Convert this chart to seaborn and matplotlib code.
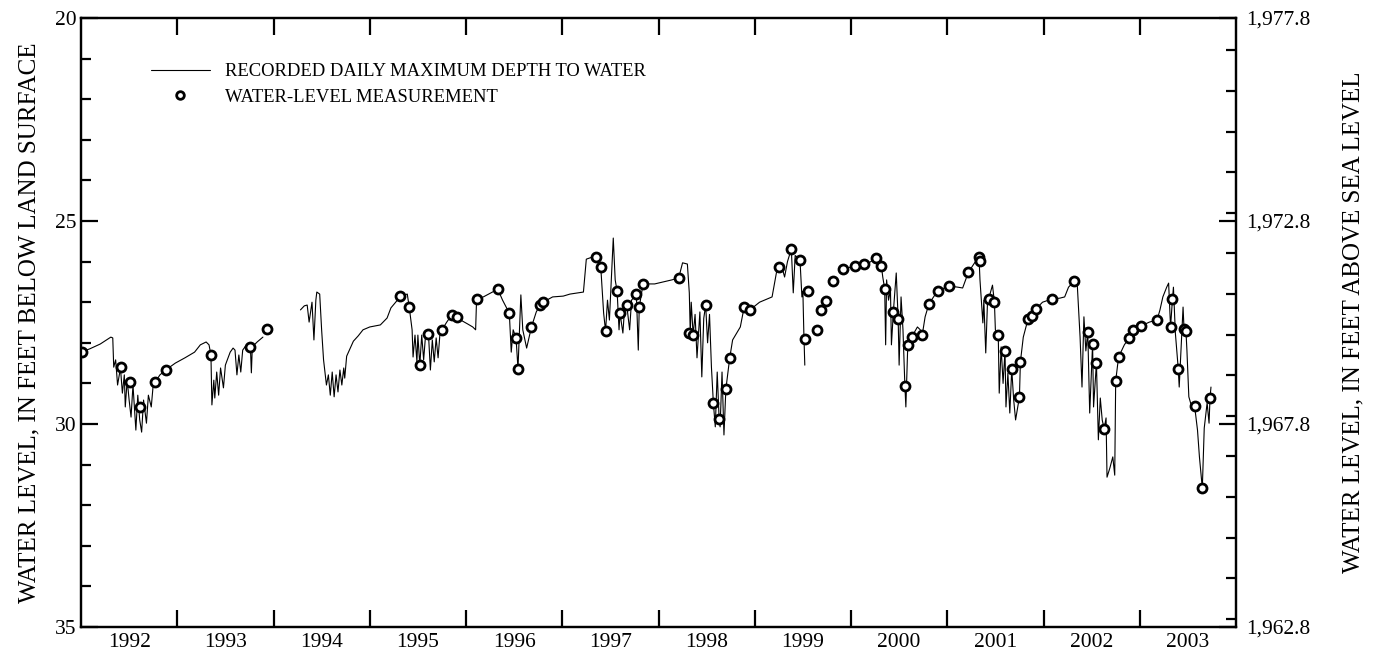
import numpy as np
import pandas as pd
import matplotlib
matplotlib.use("Agg")
import matplotlib.pyplot as plt
from matplotlib.lines import Line2D
from matplotlib.ticker import MultipleLocator, FixedLocator, NullFormatter, FixedFormatter
import seaborn as sns

# ---------------- data (decimal year, depth to water in feet) ----------------
seg1_t = [1992.00, 1992.09, 1992.20, 1992.31, 1992.33, 1992.34, 1992.36, 1992.38, 1992.41, 1992.43,
          1992.45, 1992.46, 1992.48, 1992.50, 1992.52, 1992.54, 1992.57, 1992.59, 1992.61, 1992.63,
          1992.65, 1992.68, 1992.70, 1992.73, 1992.75, 1992.77, 1992.82, 1992.88, 1992.98, 1993.08,
          1993.18, 1993.24, 1993.30, 1993.33, 1993.35, 1993.36, 1993.38, 1993.39, 1993.41, 1993.43,
          1993.45, 1993.48, 1993.50, 1993.52, 1993.55, 1993.58, 1993.60, 1993.62, 1993.64, 1993.66,
          1993.68, 1993.71, 1993.76, 1993.77, 1993.78, 1993.83, 1993.89]
seg1_v = [28.23, 28.15, 28.03, 27.86, 27.88, 28.60, 28.42, 29.04, 28.62, 29.24,
          28.79, 29.58, 28.92, 29.41, 29.83, 29.04, 30.15, 29.29, 29.90, 30.20,
          29.41, 29.98, 29.29, 29.58, 29.04, 28.97, 28.79, 28.67, 28.50, 28.37,
          28.23, 28.05, 27.98, 28.05, 28.30, 29.53, 28.92, 29.36, 28.72, 29.29,
          28.62, 29.11, 28.55, 28.42, 28.23, 28.13, 28.18, 28.79, 28.30, 28.72,
          28.18, 28.08, 28.10, 28.74, 28.10, 27.98, 27.86]

seg2_t = [1994.28, 1994.32, 1994.35, 1994.37, 1994.40, 1994.42, 1994.44, 1994.45, 1994.48, 1994.50,
          1994.52, 1994.55, 1994.57, 1994.59, 1994.61, 1994.63, 1994.65, 1994.67, 1994.69, 1994.71,
          1994.73, 1994.74, 1994.76, 1994.83, 1994.88, 1994.93, 1995.00, 1995.11, 1995.18, 1995.22,
          1995.28, 1995.31, 1995.39, 1995.41, 1995.44, 1995.45, 1995.47, 1995.49, 1995.50, 1995.52,
          1995.54, 1995.56, 1995.58, 1995.61, 1995.63, 1995.65, 1995.67, 1995.69, 1995.71, 1995.73,
          1995.75, 1995.80, 1995.85, 1995.91, 1995.96, 1996.02, 1996.07, 1996.10, 1996.11, 1996.18,
          1996.26, 1996.33, 1996.38, 1996.45, 1996.47, 1996.49, 1996.52, 1996.54, 1996.57, 1996.59,
          1996.63, 1996.68, 1996.73, 1996.77, 1996.80, 1996.90, 1997.01, 1997.08, 1997.22, 1997.25,
          1997.31, 1997.35, 1997.40, 1997.43, 1997.45, 1997.47, 1997.49, 1997.53, 1997.55, 1997.57,
          1997.59, 1997.60, 1997.63, 1997.65, 1997.67, 1997.70, 1997.72, 1997.77, 1997.79, 1997.80,
          1997.84, 1997.96, 1998.05, 1998.14, 1998.21, 1998.25, 1998.30, 1998.32, 1998.33, 1998.34,
          1998.36, 1998.38, 1998.40, 1998.43, 1998.45, 1998.47, 1998.49, 1998.51, 1998.53, 1998.55,
          1998.57, 1998.59, 1998.61, 1998.63, 1998.64, 1998.66, 1998.68, 1998.70, 1998.74, 1998.77,
          1998.85, 1998.89, 1998.95, 1999.05, 1999.18, 1999.23, 1999.25, 1999.29, 1999.31, 1999.34,
          1999.38, 1999.40, 1999.42, 1999.44, 1999.47, 1999.49, 1999.50, 1999.51, 1999.52]
seg2_v = [27.19, 27.09, 27.07, 27.49, 27.00, 27.93, 26.95, 26.75, 26.80, 27.68,
          28.42, 29.04, 28.79, 29.29, 28.72, 29.33, 28.79, 29.21, 28.67, 29.04,
          28.62, 28.87, 28.33, 27.96, 27.83, 27.68, 27.61, 27.56, 27.39, 27.14,
          26.97, 26.85, 26.80, 27.12, 27.68, 28.35, 27.81, 28.47, 27.81, 28.55,
          27.81, 28.42, 27.81, 27.78, 28.67, 27.93, 28.47, 27.88, 28.37, 27.76,
          27.68, 27.49, 27.32, 27.37, 27.46, 27.54, 27.61, 27.68, 26.92, 26.87,
          26.77, 26.68, 26.95, 27.27, 28.23, 27.68, 27.88, 28.64, 26.82, 27.68,
          28.13, 27.61, 27.24, 27.07, 27.00, 26.87, 26.85, 26.80, 26.75, 25.94,
          25.89, 25.88, 26.13, 27.27, 27.71, 26.95, 27.44, 25.42, 26.45, 26.73,
          27.68, 27.27, 27.76, 27.07, 27.07, 27.68, 26.95, 26.80, 28.18, 27.12,
          26.55, 26.55, 26.50, 26.45, 26.40, 26.03, 26.06, 26.77, 27.76, 27.00,
          27.81, 27.30, 28.37, 27.24, 28.84, 27.40, 27.07, 28.00, 27.30, 28.60,
          29.48, 30.07, 28.72, 29.88, 30.07, 28.72, 30.27, 29.14, 28.37, 27.93,
          27.61, 27.12, 27.19, 27.00, 26.87, 26.21, 26.13, 26.20, 26.38, 26.00,
          25.69, 26.77, 25.85, 25.89, 25.96, 26.87, 26.73, 27.76, 28.55]

seg3_t = [1999.92, 2000.04, 2000.14, 2000.20, 2000.26, 2000.31, 2000.33, 2000.35, 2000.36, 2000.37,
          2000.39, 2000.41, 2000.42, 2000.44, 2000.47, 2000.49, 2000.50, 2000.52, 2000.54, 2000.56,
          2000.57, 2000.59, 2000.63, 2000.69, 2000.72, 2000.74, 2000.77, 2000.81, 2000.90, 2001.02,
          2001.11, 2001.16, 2001.22, 2001.29, 2001.33, 2001.34, 2001.37, 2001.38, 2001.40, 2001.42,
          2001.43, 2001.47, 2001.49, 2001.50, 2001.53, 2001.54, 2001.56, 2001.58, 2001.60, 2001.61,
          2001.63, 2001.65, 2001.67, 2001.69, 2001.71, 2001.75, 2001.76, 2001.79, 2001.84, 2001.88,
          2001.92, 2001.99, 2002.09, 2002.17, 2002.22, 2002.26, 2002.32, 2002.35, 2002.38, 2002.40,
          2002.42, 2002.44, 2002.46, 2002.48, 2002.51, 2002.52, 2002.55, 2002.57, 2002.59, 2002.61,
          2002.63, 2002.65, 2002.66, 2002.69, 2002.72, 2002.74, 2002.75, 2002.78, 2002.84, 2002.89,
          2002.93, 2003.01, 2003.10, 2003.18, 2003.21, 2003.24, 2003.28, 2003.30, 2003.32, 2003.34,
          2003.35, 2003.37, 2003.40, 2003.41, 2003.45, 2003.46, 2003.48, 2003.49, 2003.51, 2003.54,
          2003.57, 2003.60, 2003.62, 2003.65, 2003.67, 2003.70, 2003.72, 2003.73, 2003.74]
seg3_v = [26.18, 26.11, 26.06, 26.01, 25.91, 26.01, 26.38, 26.67, 28.05, 26.45,
          26.95, 26.70, 28.05, 27.24, 26.28, 27.41, 28.55, 26.87, 27.68, 29.07,
          29.58, 28.05, 27.86, 27.61, 27.68, 27.81, 27.36, 27.04, 26.72, 26.60,
          26.63, 26.65, 26.26, 26.01, 25.89, 26.45, 27.51, 26.95, 28.25, 26.87,
          26.92, 26.58, 27.00, 27.68, 27.81, 29.24, 28.10, 29.00, 28.20, 29.58,
          28.75, 29.73, 28.65, 29.40, 29.90, 29.33, 28.47, 27.86, 27.41, 27.34,
          27.17, 27.00, 26.92, 26.90, 26.87, 26.63, 26.48, 26.53, 27.86, 29.09,
          27.36, 28.20, 27.73, 29.73, 28.03, 29.58, 28.50, 30.39, 29.36, 29.90,
          30.12, 29.85, 31.31, 31.08, 30.81, 31.26, 28.94, 28.35, 28.05, 27.88,
          27.68, 27.59, 27.49, 27.44, 27.19, 26.87, 26.63, 26.53, 27.61, 26.92,
          26.63, 27.76, 28.64, 29.09, 27.12, 27.66, 27.71, 28.18, 29.33, 29.58,
          29.56, 30.15, 30.81, 31.58, 30.10, 29.48, 29.98, 29.36, 29.09]

meas_t = [1992.01, 1992.42, 1992.51, 1992.61, 1992.77, 1992.88, 1993.35, 1993.76, 1993.93,
          1995.31, 1995.41, 1995.52, 1995.61, 1995.75, 1995.85, 1995.91, 1996.11, 1996.33,
          1996.45, 1996.52, 1996.54, 1996.68, 1996.77, 1996.80, 1997.35, 1997.40, 1997.45,
          1997.57, 1997.60, 1997.67, 1997.77, 1997.80, 1997.84, 1998.21, 1998.32, 1998.36,
          1998.49, 1998.57, 1998.63, 1998.70, 1998.74, 1998.89, 1998.95, 1999.25, 1999.38,
          1999.47, 1999.52, 1999.55, 1999.65, 1999.69, 1999.74, 1999.81, 1999.92, 2000.04,
          2000.14, 2000.26, 2000.31, 2000.35, 2000.44, 2000.49, 2000.56, 2000.59, 2000.63,
          2000.74, 2000.81, 2000.90, 2001.02, 2001.22, 2001.33, 2001.34, 2001.43, 2001.49,
          2001.53, 2001.60, 2001.67, 2001.75, 2001.76, 2001.84, 2001.88, 2001.92, 2002.09,
          2002.32, 2002.46, 2002.51, 2002.55, 2002.63, 2002.75, 2002.78, 2002.89, 2002.93,
          2003.01, 2003.18, 2003.32, 2003.34, 2003.40, 2003.46, 2003.48, 2003.57, 2003.65,
          2003.73]
meas_v = [28.23, 28.60, 28.97, 29.58, 28.97, 28.67, 28.30, 28.10, 27.66,
          26.85, 27.12, 28.55, 27.78, 27.68, 27.32, 27.37, 26.92, 26.68,
          27.27, 27.88, 28.64, 27.61, 27.07, 27.00, 25.88, 26.13, 27.71,
          26.73, 27.27, 27.07, 26.80, 27.12, 26.55, 26.41, 27.76, 27.82,
          27.07, 29.49, 29.88, 29.14, 28.38, 27.12, 27.19, 26.13, 25.69,
          25.96, 27.90, 26.73, 27.68, 27.19, 26.97, 26.48, 26.19, 26.11,
          26.06, 25.92, 26.11, 26.68, 27.24, 27.41, 29.07, 28.05, 27.86,
          27.81, 27.05, 26.73, 26.60, 26.26, 25.88, 25.98, 26.92, 27.00,
          27.81, 28.20, 28.65, 29.33, 28.47, 27.42, 27.34, 27.17, 26.92,
          26.48, 27.73, 28.03, 28.50, 30.12, 28.94, 28.35, 27.88, 27.68,
          27.59, 27.44, 27.61, 26.92, 28.64, 27.66, 27.71, 29.56, 31.58,
          29.36]

year_labels = [str(y) for y in range(1992, 2004)]
left_ticks = [20, 25, 30, 35]
right_ticks = [1962.8, 1967.8, 1972.8, 1977.8]
DATUM = 1997.8  # land-surface altitude: elevation = DATUM - depth

# ---------------- build tables ----------------
line_df = pd.concat([
    pd.DataFrame({"t": seg1_t, "v": seg1_v, "seg": 1}),
    pd.DataFrame({"t": seg2_t, "v": seg2_v, "seg": 2}),
    pd.DataFrame({"t": seg3_t, "v": seg3_v, "seg": 3}),
], ignore_index=True)
meas_df = pd.DataFrame({"t": meas_t, "v": meas_v})

sns.set_style("ticks")
plt.rcParams["font.family"] = ["Liberation Serif", "DejaVu Serif"]
for k in ("axes.edgecolor", "xtick.color", "ytick.color", "text.color", "axes.labelcolor"):
    plt.rcParams[k] = "black"
plt.rcParams["axes.linewidth"] = 1.6

W, H = 1373, 660
fig = plt.figure(figsize=(W / 100, H / 100), dpi=100)
L, R, T, B = 81, 1236, 18, 627
ax = fig.add_axes([L / W, (H - B) / H, (R - L) / W, (B - T) / H])

sns.lineplot(data=line_df, x="t", y="v", units="seg", estimator=None, sort=False,
             color="black", linewidth=0.8, ax=ax, legend=False)
sns.scatterplot(data=meas_df, x="t", y="v", marker="o", s=42, facecolor="white",
                edgecolor="black", linewidth=2.0, ax=ax, legend=False, zorder=5)

ax.set_xlim(1992, 2004)
ax.set_ylim(35, 20)
ax.set_xlabel("")
ax.set_ylabel("WATER LEVEL, IN FEET BELOW LAND SURFACE", fontsize=18)
ax.yaxis.set_label_coords(-0.035, 0.5)

# x ticks: year boundaries (unlabeled), labels at mid-year
ax.xaxis.set_major_locator(FixedLocator(np.arange(1993, 2004)))
ax.xaxis.set_major_formatter(NullFormatter())
ax.xaxis.set_minor_locator(FixedLocator(np.arange(1992.5, 2004, 1.0)))
ax.xaxis.set_minor_formatter(FixedFormatter(year_labels))
ax.tick_params(axis="x", which="major", direction="in", length=12, width=1.6, top=True, bottom=True)
ax.tick_params(axis="x", which="minor", length=0, labelsize=15.5, pad=4)

ax.yaxis.set_major_locator(FixedLocator(left_ticks))
ax.yaxis.set_minor_locator(MultipleLocator(1))
ax.tick_params(axis="y", which="major", direction="in", length=12, width=1.6, labelsize=15.5, pad=3, right=False)
ax.tick_params(axis="y", which="minor", direction="in", length=7, width=1.6, right=False)

ax2 = ax.twinx()
ax2.set_ylim(DATUM - 35, DATUM - 20)
ax2.yaxis.set_major_locator(FixedLocator(right_ticks))
ax2.yaxis.set_minor_locator(MultipleLocator(1))
ax2.set_yticklabels([f"{v:,.1f}" for v in right_ticks])
ax2.tick_params(axis="y", which="major", direction="in", length=12, width=1.6, labelsize=15.5, pad=7)
ax2.tick_params(axis="y", which="minor", direction="in", length=7, width=1.6)
ax2.set_ylabel("WATER LEVEL, IN FEET ABOVE SEA LEVEL", fontsize=18, rotation=90)
ax2.yaxis.set_label_coords(1.092, 0.5)
for a in (ax, ax2):
    for s in a.spines.values():
        s.set_linewidth(1.6)
        s.set_color("black")

handles = [Line2D([], [], color="black", linewidth=0.8),
           Line2D([], [], linestyle="none", marker="o", markersize=5.5, markerfacecolor="white",
                  markeredgecolor="black", markeredgewidth=2.0)]
ax.legend(handles, ["RECORDED DAILY MAXIMUM DEPTH TO WATER", "WATER-LEVEL MEASUREMENT"],
          loc="upper left", bbox_to_anchor=(0.0457, 0.953), frameon=False, fontsize=13.4,
          handlelength=3.2, handletextpad=0.8, labelspacing=0.45, borderpad=0.4)

fig.savefig("out.png", dpi=100)
